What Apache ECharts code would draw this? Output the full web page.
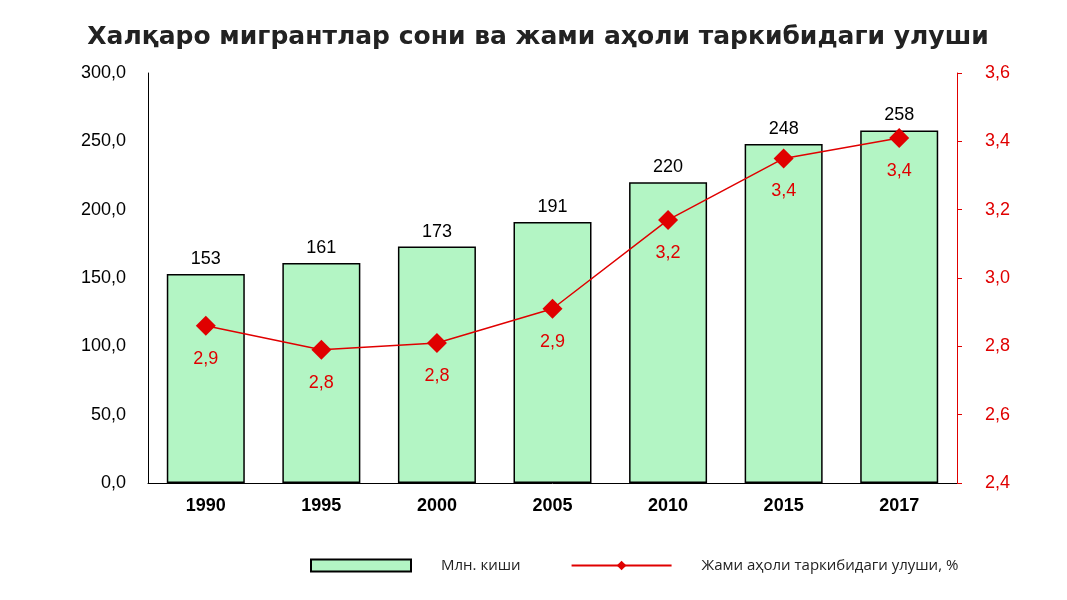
<!DOCTYPE html><html><head><meta charset="utf-8"><script src="https://cdn.jsdelivr.net/npm/echarts@6/dist/echarts.min.js"></script></head><body style="margin:0;background:#fff"><div id="c" style="width:1067px;height:600px"></div><script>
const years=['1990','1995','2000','2005','2010','2015','2017'];
const migrants=[153,161,173,191,220,248,258];
const share=[2.86,2.79,2.81,2.91,3.17,3.35,3.41];
const shareLabels=['2,9','2,8','2,8','2,9','3,2','3,4','3,4'];
const c=echarts.init(document.getElementById('c'));
const f=v=>v.toFixed(1).replace('.',',');
c.setOption({
title:{text:'Халқаро мигрантлар сони ва жами аҳоли таркибидаги улуши',left:533,textAlign:'center',top:20,textStyle:{fontFamily:'DejaVu Sans',fontSize:25,fontWeight:'bold',color:'#222'}},
legend:{bottom:22,left:305,itemGap:50,itemWidth:100,itemHeight:12,textStyle:{fontFamily:'Open Sans',fontSize:15,color:'#222',padding:[0,0,0,25]},
 data:[{name:'Млн. киши',icon:'rect'},{name:'Жами аҳоли таркибидаги улуши, %'}]},
grid:{left:148,right:110,top:73,bottom:117},
xAxis:{type:'category',data:years,axisTick:{show:false},axisLine:{lineStyle:{color:'#000'}},axisLabel:{fontFamily:'Liberation Sans',fontSize:18,color:'#000',fontWeight:'bold',margin:14}},
yAxis:[{type:'value',min:0,max:300,interval:50,splitLine:{show:false},axisLine:{show:true,lineStyle:{color:'#000'}},axisLabel:{formatter:f,fontFamily:'Liberation Sans',fontSize:18,color:'#000',margin:22}},
{type:'value',min:2.4,max:3.6,interval:0.2,splitLine:{show:false},axisLine:{show:true,lineStyle:{color:'#e00000'}},axisTick:{show:true,lineStyle:{color:'#e00000'}},axisLabel:{formatter:v=>v.toFixed(1).replace('.',','),fontFamily:'Liberation Sans',fontSize:18,color:'#e00000',margin:28}}],
series:[{name:'Млн. киши',type:'bar',data:migrants,barWidth:78,itemStyle:{color:'#b3f5c4',borderColor:'#000',borderWidth:1.5},
 label:{show:true,position:'top',fontFamily:'Liberation Sans',fontSize:18,color:'#000',distance:6}},
{name:'Жами аҳоли таркибидаги улуши, %',type:'line',yAxisIndex:1,data:share,symbol:'diamond',symbolSize:20,lineStyle:{color:'#e00000',width:1.5},itemStyle:{color:'#e00000'},
 label:{show:true,position:'bottom',distance:14,formatter:p=>shareLabels[p.dataIndex],fontFamily:'Liberation Sans',fontSize:18,color:'#e00000'}}]
});
</script></body></html>
